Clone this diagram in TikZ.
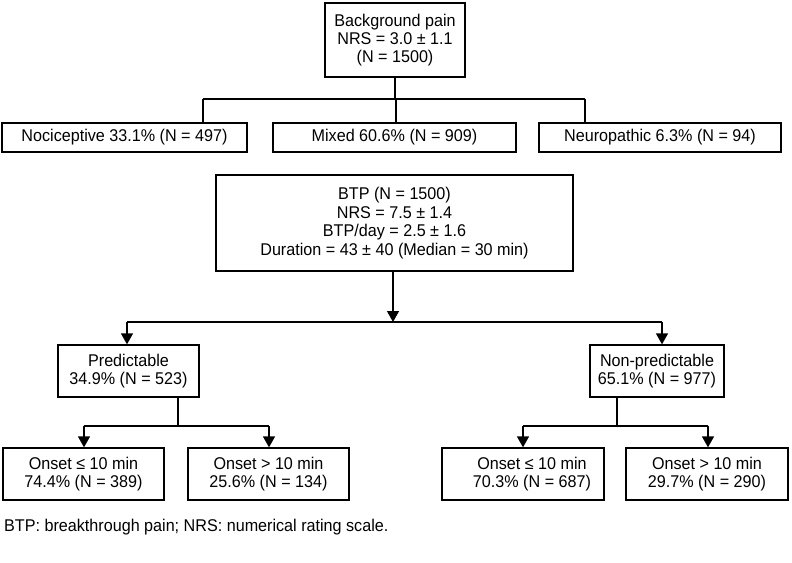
\documentclass[tikz,border=0pt]{standalone}
\usepackage{fontspec}
\setmainfont{Liberation Sans}[FakeStretch=0.95]
\usetikzlibrary{arrows.meta}
\begin{document}
\begin{tikzpicture}[x=1pt,y=-1pt,
  box/.style={draw,line width=1.3pt,inner sep=0pt,align=center,
    font=\fontsize{17}{18.4}\selectfont},
  conn/.style={line width=1.3pt},
  arr/.style={line width=1.3pt,-{Triangle[width=12pt,length=11pt]}}]
\useasboundingbox (0,0) rectangle (792,562);
% boxes
\node[box,minimum width=140pt,minimum height=74pt] (bg) at (395,40) {Background pain\\NRS = 3.0 ± 1.1\\(N = 1500)};
\node[box,minimum width=245pt,minimum height=29pt] (noc) at (124.5,137.5) {Nociceptive 33.1\% (N = 497)};
\node[box,minimum width=243pt,minimum height=29pt] (mix) at (394.5,137.5) {Mixed 60.6\% (N = 909)};
\node[box,minimum width=242pt,minimum height=29pt] (neu) at (660,137.5) {Neuropathic 6.3\% (N = 94)};
\node[box,minimum width=357pt,minimum height=96pt] (btp) at (394.5,223) {BTP (N = 1500)\\NRS = 7.5 ± 1.4\\BTP/day = 2.5 ± 1.6\\Duration = 43 ± 40 (Median = 30 min)};
\node[box,minimum width=141pt,minimum height=52pt] (pred) at (128.5,371) {Predictable\\34.9\% (N = 523)};
\node[box,minimum width=134pt,minimum height=52pt] (nonp) at (657,371) {Non-predictable\\65.1\% (N = 977)};
\node[box,minimum width=161pt,minimum height=52pt] (o1) at (83.5,474) {Onset ≤ 10 min\\74.4\% (N = 389)};
\node[box,minimum width=161pt,minimum height=52pt] (o2) at (268.5,474) {Onset > 10 min\\25.6\% (N = 134)};
\node[box,minimum width=162pt,minimum height=52pt] (o3) at (523,474) {\hspace*{18pt}Onset ≤ 10 min\\\hspace*{18pt}70.3\% (N = 687)};
\node[box,minimum width=162pt,minimum height=52pt] (o4) at (707,474) {Onset > 10 min\\29.7\% (N = 290)};
\node[anchor=west,inner sep=0pt,font=\fontsize{17}{18.4}\selectfont] (cap) at (4,527) {BTP: breakthrough pain; NRS: numerical rating scale.};
% background pain connectors
\coordinate (j0) at (395,99);
\coordinate (jn) at (203,99);
\coordinate (jm) at (396,99);
\coordinate (je) at (585,99);
\draw[conn] (bg.south) -- (j0);
\draw[conn] (jn) -- (je);
\draw[conn] (jn) -- (jn |- noc.north);
\draw[conn] (jm) -- (jm |- mix.north);
\draw[conn] (je) -- (je |- neu.north);
% BTP connectors
\coordinate (b0) at (393,322);
\coordinate (bl) at (127,322);
\coordinate (br) at (662,322);
\draw[arr] (btp.south -| b0) -- (b0);
\draw[conn] (bl) -- (br);
\draw[arr] (bl) -- (bl |- pred.north);
\draw[arr] (br) -- (br |- nonp.north);
% predictable connectors
\coordinate (p0) at (178,426);
\coordinate (pl) at (84,426);
\coordinate (pr) at (269,426);
\draw[conn] (pred.south -| p0) -- (p0);
\draw[conn] (pl) -- (pr);
\draw[arr] (pl) -- (pl |- o1.north);
\draw[arr] (pr) -- (pr |- o2.north);
% non-predictable connectors
\coordinate (n0) at (617,426);
\coordinate (nl) at (523,426);
\coordinate (nr) at (708,426);
\draw[conn] (nonp.south -| n0) -- (n0);
\draw[conn] (nl) -- (nr);
\draw[arr] (nl) -- (nl |- o3.north);
\draw[arr] (nr) -- (nr |- o4.north);
\end{tikzpicture}
\end{document}
